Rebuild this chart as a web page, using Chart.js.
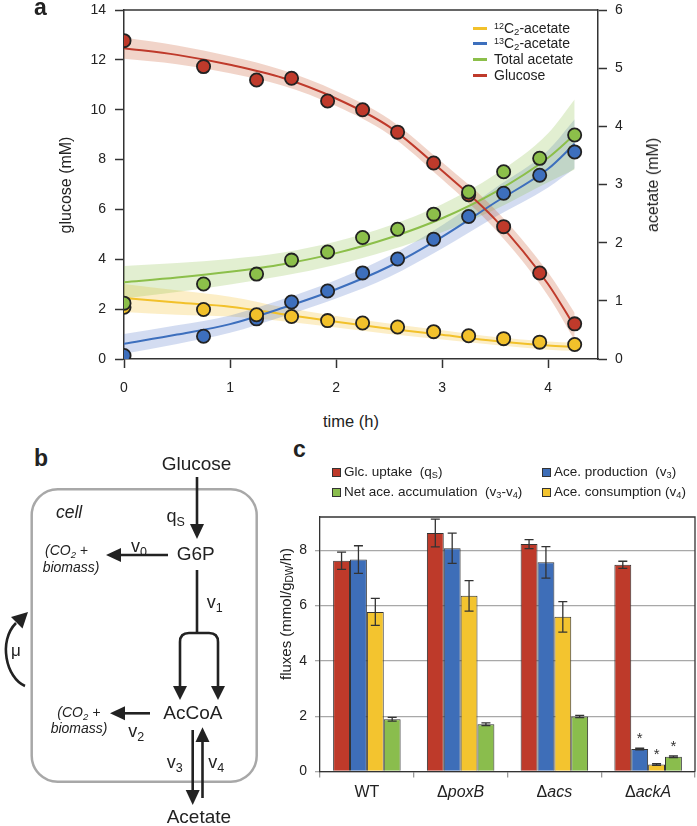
<!DOCTYPE html>
<html>
<head>
<meta charset="utf-8">
<script src="https://cdn.jsdelivr.net/npm/chart.js@4.4.0/dist/chart.umd.min.js"></script>
<style>
html,body{margin:0;padding:0;background:#fff;}
body{width:697px;height:826px;position:relative;overflow:hidden;font-family:"Liberation Sans",Arial,Helvetica,sans-serif;color:#222;}
.abs{position:absolute;white-space:nowrap;}
.rot{transform:translate(-50%,-50%) rotate(-90deg);}
.ctr{transform:translate(-50%,-50%);}
#ca{position:absolute;left:0;top:0;}
#cc{position:absolute;left:260px;top:500px;}
sup.s{font-size:0.64em;vertical-align:0.5em;line-height:0;}
sub.s{font-size:0.68em;vertical-align:-0.25em;line-height:0;}
.lg{position:absolute;font-size:14px;line-height:16px;}
.ll{position:absolute;width:14px;height:3px;}
.sq{position:absolute;width:7px;height:7px;border:1px solid #333;}
.lc{position:absolute;font-size:13.5px;line-height:16px;}
</style>
</head>
<body>
<canvas id="ca" width="697" height="400"></canvas>
<canvas id="cc" width="437" height="326"></canvas>

<!-- panel letters -->
<div class="abs" style="left:34px;top:-6px;font-size:23px;font-weight:bold;">a</div>
<div class="abs" style="left:34px;top:445px;font-size:23px;font-weight:bold;">b</div>
<div class="abs" style="left:293px;top:436px;font-size:23px;font-weight:bold;">c</div>

<!-- panel a axis titles -->
<div class="abs rot" style="left:66px;top:185px;font-size:16px;">glucose (mM)</div>
<div class="abs rot" style="left:653px;top:185px;font-size:16px;">acetate (mM)</div>
<div class="abs ctr" style="left:351px;top:421px;font-size:16.5px;">time (h)</div>

<!-- panel a legend -->
<div class="ll" style="left:473px;top:27px;background:#f2c12b;"></div>
<div class="ll" style="left:473px;top:42px;background:#3d6fbd;"></div>
<div class="ll" style="left:473px;top:58px;background:#8cbf4a;"></div>
<div class="ll" style="left:473px;top:73.5px;background:#bf3a2b;"></div>
<div class="lg" style="left:494px;top:20px;"><sup class="s">12</sup>C<sub class="s">2</sub>-acetate</div>
<div class="lg" style="left:494px;top:35px;"><sup class="s">13</sup>C<sub class="s">2</sub>-acetate</div>
<div class="lg" style="left:494px;top:51px;">Total acetate</div>
<div class="lg" style="left:494px;top:67px;">Glucose</div>

<!-- panel c legend -->
<div class="sq" style="left:332px;top:468px;background:#be3a2a;"></div>
<div class="lc" style="left:344px;top:464px;">Glc. uptake &nbsp;(q<sub class="s">S</sub>)</div>
<div class="sq" style="left:542px;top:468px;background:#3e6eb8;"></div>
<div class="lc" style="left:554px;top:464px;">Ace. production &nbsp;(v<sub class="s">3</sub>)</div>
<div class="sq" style="left:332px;top:488px;background:#8abd4d;"></div>
<div class="lc" style="left:344px;top:484px;">Net ace. accumulation &nbsp;(v<sub class="s">3</sub>-v<sub class="s">4</sub>)</div>
<div class="sq" style="left:542px;top:488px;background:#f3c42f;"></div>
<div class="lc" style="left:554px;top:484px;">Ace. consumption (v<sub class="s">4</sub>)</div>

<!-- panel c y title -->
<div class="abs rot" style="left:285px;top:614px;font-size:15px;">fluxes (mmol/g<sub class="s">DW</sub>/h)</div>

<!-- panel b diagram -->
<svg class="abs" style="left:0;top:0;" width="697" height="826" viewBox="0 0 697 826" font-family="Liberation Sans, Arial, sans-serif">
  <rect x="31.7" y="489.3" width="225" height="292.4" rx="26" ry="26" fill="none" stroke="#a8a8a8" stroke-width="2.5"/>
  <g stroke="#222" stroke-width="2.6" fill="none">
    <line x1="197" y1="477" x2="197" y2="526"/>
    <line x1="168" y1="555" x2="119" y2="555"/>
    <line x1="197" y1="570" x2="197" y2="633"/>
    <path d="M180,688 V642 Q180,633 189,633 H209 Q218,633 218,642 V688"/>
    <line x1="150" y1="713.3" x2="123" y2="713.3"/>
    <line x1="192.7" y1="730" x2="192.7" y2="792"/>
    <line x1="202.5" y1="798" x2="202.5" y2="741"/>
    <path d="M25,686 C6,678 -2,641 16,623"/>
  </g>
  <g fill="#222">
    <polygon points="190,524 204,524 197,539"/>
    <polygon points="121,548 121,562 106,555"/>
    <polygon points="173,686 187,686 180,700"/>
    <polygon points="211,686 225,686 218,700"/>
    <polygon points="125,706.3 125,720.3 110,713.3"/>
    <polygon points="185.7,790 199.7,790 192.7,805"/>
    <polygon points="195.5,742 209.5,742 202.5,727.3"/>
    <polygon points="28,612 22.5,628.5 11,617"/>
  </g>
  <g fill="#222" font-size="19">
    <text x="161.7" y="470">Glucose</text>
    <text x="176.7" y="560">G6P</text>
    <text x="163.3" y="719.3">AcCoA</text>
    <text x="166.7" y="823">Acetate</text>
  </g>
  <g fill="#222" font-size="18">
    <text x="166.5" y="521.5">q<tspan font-size="12.5" dy="4">S</tspan></text>
    <text x="131" y="551.7">v<tspan font-size="12.5" dy="4">0</tspan></text>
    <text x="206.7" y="608.3">v<tspan font-size="12.5" dy="4">1</tspan></text>
    <text x="128.3" y="736.7">v<tspan font-size="12.5" dy="4">2</tspan></text>
    <text x="166.7" y="768.3">v<tspan font-size="12.5" dy="4">3</tspan></text>
    <text x="208.3" y="768.3">v<tspan font-size="12.5" dy="4">4</tspan></text>
    <text x="11" y="656" font-size="17">μ</text>
  </g>
  <g fill="#222" font-style="italic" font-size="14">
    <text x="56" y="518.3" font-size="17.5">cell</text>
    <text x="45" y="555">(CO<tspan font-size="9.5" dy="3">2</tspan><tspan dy="-3"> +</tspan></text>
    <text x="42.7" y="571.7">biomass)</text>
    <text x="57.3" y="716.7">(CO<tspan font-size="9.5" dy="3">2</tspan><tspan dy="-3"> +</tspan></text>
    <text x="50.7" y="733.3">biomass)</text>
  </g>
</svg>

<script>
const FONT = '"Liberation Sans", Arial, Helvetica, sans-serif';

// ---------------- Panel a: time course ----------------
const sampleTimes   = [0, 0.75, 1.25, 1.58, 1.92, 2.25, 2.58, 2.92, 3.25, 3.58, 3.92, 4.25];
const glucoseObs    = [12.77, 11.73, 11.19, 11.26, 10.35, 10.0, 9.10, 7.86, 6.59, 5.31, 3.45, 1.41];
const acetate12Obs  = [0.89, 0.85, 0.76, 0.73, 0.66, 0.62, 0.55, 0.47, 0.40, 0.35, 0.29, 0.25];
const acetate13Obs  = [0.06, 0.39, 0.69, 0.98, 1.17, 1.48, 1.72, 2.06, 2.45, 2.85, 3.16, 3.56];
const acetateTotObs = [0.96, 1.29, 1.46, 1.70, 1.84, 2.09, 2.23, 2.49, 2.87, 3.22, 3.45, 3.85];

const fitTimes      = [0, 0.5, 1, 1.5, 2, 2.5, 3, 3.5, 4, 4.25];
const glucoseFit    = [12.47, 12.2, 11.8, 11.27, 10.45, 9.32, 7.55, 5.6, 3.0, 1.3];
const glucoseCI     = [0.43, 0.38, 0.34, 0.31, 0.30, 0.31, 0.34, 0.40, 0.47, 0.55];
const acetate12Fit  = [1.05, 0.97, 0.90, 0.77, 0.64, 0.52, 0.415, 0.31, 0.23, 0.21];
const acetate12CI   = [0.24, 0.21, 0.17, 0.12, 0.10, 0.09, 0.08, 0.07, 0.07, 0.07];
const acetate13Fit  = [0.26, 0.42, 0.60, 0.88, 1.20, 1.59, 2.10, 2.69, 3.27, 3.70];
const acetate13CI   = [0.17, 0.16, 0.15, 0.15, 0.16, 0.18, 0.20, 0.25, 0.32, 0.42];
const acetateTotFit = [1.32, 1.40, 1.50, 1.63, 1.82, 2.08, 2.42, 2.87, 3.46, 3.86];
const acetateTotCI  = [0.28, 0.25, 0.22, 0.20, 0.20, 0.21, 0.24, 0.30, 0.42, 0.60];

const timeMax = 4.47;
const timeStep = 1;
const glucoseStep = 2;
const acetateStep = 1;

// ---------------- Panel c: fluxes ----------------
const strains = ['WT', 'ΔpoxB', 'Δacs', 'ΔackA'];
const glcUptake = [7.62, 8.62, 8.22, 7.47];
const glcUptakeErr = [0.31, 0.50, 0.16, 0.13];
const aceProduction = [7.66, 8.07, 7.56, 0.81];
const aceProductionErr = [0.50, 0.55, 0.57, 0.03];
const aceConsumption = [5.77, 6.35, 5.59, 0.25];
const aceConsumptionErr = [0.49, 0.55, 0.55, 0.03];
const netAccumulation = [1.89, 1.71, 1.99, 0.53];
const netAccumulationErr = [0.07, 0.05, 0.04, 0.03];
const significantStrain = [false, false, false, true];

// ---------- helpers ----------
const xy = (xs, ys) => xs.map((x, i) => ({x, y: ys[i]}));
const shifted = (xs, ys, w, s) => xs.map((x, i) => ({x, y: ys[i] + s * w[i]}));

const COL = {red: '#bf3a2b', blue: '#3d6fbd', green: '#8cbf4a', yellow: '#f2c12b'};
const BAND = {
  red: 'rgba(205,100,60,0.28)', blue: 'rgba(70,110,195,0.24)',
  green: 'rgba(140,192,70,0.25)', yellow: 'rgba(245,190,40,0.26)'
};

function bandPair(fit, ci, key, axis) {
  return [
    {data: shifted(fitTimes, fit, ci, 1), yAxisID: axis, fill: '+1', backgroundColor: BAND[key],
     borderWidth: 0, pointRadius: 0, cubicInterpolationMode: 'monotone', order: 10},
    {data: shifted(fitTimes, fit, ci, -1), yAxisID: axis, fill: false, backgroundColor: BAND[key],
     borderWidth: 0, pointRadius: 0, cubicInterpolationMode: 'monotone', order: 10}
  ];
}
function fitLine(fit, key, axis) {
  return {data: xy(fitTimes, fit), yAxisID: axis, borderColor: COL[key], borderWidth: 2,
    pointRadius: 0, fill: false, cubicInterpolationMode: 'monotone', order: 5};
}
function obsPoints(obs, key, axis, ord) {
  return {data: xy(sampleTimes, obs), yAxisID: axis, showLine: false, pointRadius: 6.6,
    pointBorderWidth: 1.8, pointBorderColor: '#222', pointBackgroundColor: COL[key], order: ord};
}

const topBorder = {
  id: 'topBorder',
  afterDraw(chart) {
    const {ctx, chartArea: a} = chart;
    ctx.save(); ctx.strokeStyle = '#333'; ctx.lineWidth = 1.5;
    ctx.beginPath(); ctx.moveTo(a.left, a.top); ctx.lineTo(a.right, a.top); ctx.stroke();
    ctx.restore();
  }
};

const axisCommon = (step, pad) => ({
  ticks: {color: '#222', font: {family: FONT, size: 14}, includeBounds: false, stepSize: step, padding: pad, maxRotation: 0},
  grid: {display: true, drawOnChartArea: false, drawTicks: true, tickLength: 9, tickColor: '#333', tickWidth: 1.5},
  border: {display: true, color: '#333', width: 1.5}
});

new Chart(document.getElementById('ca'), {
  type: 'line',
  data: {
    datasets: [
      ...bandPair(glucoseFit, glucoseCI, 'red', 'y'),
      ...bandPair(acetateTotFit, acetateTotCI, 'green', 'y2'),
      ...bandPair(acetate13Fit, acetate13CI, 'blue', 'y2'),
      ...bandPair(acetate12Fit, acetate12CI, 'yellow', 'y2'),
      fitLine(glucoseFit, 'red', 'y'),
      fitLine(acetateTotFit, 'green', 'y2'),
      fitLine(acetate13Fit, 'blue', 'y2'),
      fitLine(acetate12Fit, 'yellow', 'y2'),
      obsPoints(glucoseObs, 'red', 'y', 4),
      obsPoints(acetate13Obs, 'blue', 'y2', 3),
      obsPoints(acetate12Obs, 'yellow', 'y2', 2),
      obsPoints(acetateTotObs, 'green', 'y2', 1)
    ]
  },
  options: {
    responsive: false, animation: false,
    layout: {padding: {top: 10, left: 0, right: 0, bottom: 0}},
    plugins: {legend: {display: false}, tooltip: {enabled: false}},
    scales: {
      x: Object.assign(axisCommon(timeStep, 12), {
        type: 'linear', position: 'bottom', min: 0, max: timeMax,
        afterFit(s) { s.height = 41; }
      }),
      y: Object.assign(axisCommon(glucoseStep, 9), {
        type: 'linear', position: 'left', min: 0, max: 14,
        afterFit(s) { s.width = 124; s.paddingTop = 4; s.paddingBottom = 4; }
      }),
      y2: Object.assign(axisCommon(acetateStep, 8), {
        type: 'linear', position: 'right', min: 0, max: 6,
        afterFit(s) { s.width = 99; s.paddingTop = 4; s.paddingBottom = 4; }
      })
    }
  },
  plugins: [topBorder]
});

// ---------- Panel c ----------
const errPlugin = {
  id: 'errBars',
  afterDatasetsDraw(chart) {
    const {ctx} = chart; const ys = chart.scales.y;
    ctx.save();
    chart.data.datasets.forEach((ds, di) => {
      const meta = chart.getDatasetMeta(di);
      meta.data.forEach((bar, i) => {
        const v = ds.data[i], e = ds.errors[i];
        const x = bar.x, yt = ys.getPixelForValue(v + e), yb = ys.getPixelForValue(v - e);
        ctx.strokeStyle = '#333'; ctx.lineWidth = 1.3;
        ctx.beginPath();
        ctx.moveTo(x, yt); ctx.lineTo(x, yb);
        ctx.moveTo(x - 4.5, yt); ctx.lineTo(x + 4.5, yt);
        ctx.moveTo(x - 4.5, yb); ctx.lineTo(x + 4.5, yb);
        ctx.stroke();
        if (ds.star && significantStrain[i]) {
          ctx.fillStyle = '#333'; ctx.font = '15px ' + FONT;
          ctx.textAlign = 'center'; ctx.textBaseline = 'alphabetic';
          ctx.fillText('*', x, yt - 5);
        }
      });
    });
    ctx.restore();
  },
  afterDraw(chart) {
    const {ctx, chartArea: a} = chart;
    ctx.save();
    ctx.strokeStyle = '#333'; ctx.lineWidth = 1.3;
    ctx.beginPath();
    ctx.moveTo(a.left, a.top); ctx.lineTo(a.right, a.top); ctx.lineTo(a.right, a.bottom);
    ctx.stroke();
    // category labels: Greek delta upright, gene names italic
    const xs = chart.scales.x;
    ctx.fillStyle = '#222'; ctx.textBaseline = 'middle'; ctx.textAlign = 'left';
    chart.data.labels.forEach((lab, i) => {
      const cx = xs.getPixelForTick(i);
      const y = a.bottom + 21;
      let pre = '', rest = lab, restFont = '16px ' + FONT;
      if (lab.startsWith('Δ')) { pre = 'Δ'; rest = lab.slice(1); restFont = 'italic 16px ' + FONT; }
      ctx.font = '16px ' + FONT; const wp = ctx.measureText(pre).width;
      ctx.font = restFont; const wr = ctx.measureText(rest).width;
      const x0 = cx - (wp + wr) / 2;
      ctx.font = '16px ' + FONT; ctx.fillText(pre, x0, y);
      ctx.font = restFont; ctx.fillText(rest, x0 + wp, y);
    });
    ctx.restore();
  }
};

new Chart(document.getElementById('cc'), {
  type: 'bar',
  data: {
    labels: strains,
    datasets: [
      {label: 'Glc. uptake (qS)', data: glcUptake, errors: glcUptakeErr, backgroundColor: '#be3a2a', borderColor: '#333', borderWidth: 1},
      {label: 'Ace. production (v3)', data: aceProduction, errors: aceProductionErr, star: true, backgroundColor: '#3e6eb8', borderColor: '#333', borderWidth: 1},
      {label: 'Ace. consumption (v4)', data: aceConsumption, errors: aceConsumptionErr, star: true, backgroundColor: '#f3c42f', borderColor: '#333', borderWidth: 1},
      {label: 'Net ace. accumulation (v3-v4)', data: netAccumulation, errors: netAccumulationErr, star: true, backgroundColor: '#8abd4d', borderColor: '#333', borderWidth: 1}
    ]
  },
  options: {
    responsive: false, animation: false,
    categoryPercentage: 0.72, barPercentage: 1.0,
    layout: {padding: {top: 17, left: 0, right: 2, bottom: 0}},
    plugins: {legend: {display: false}, tooltip: {enabled: false}},
    scales: {
      x: {
        grid: {offset: true, display: true, drawOnChartArea: false, drawTicks: true, tickLength: 6, color: '#999', lineWidth: 1.3},
        border: {display: true, color: '#333', width: 1.3},
        ticks: {color: 'rgba(0,0,0,0)', font: {family: FONT, size: 16}},
        afterFit(s) { s.height = 54.5; }
      },
      y: {
        min: 0, max: 9.2,
        ticks: {stepSize: 2, includeBounds: false, color: '#222', padding: 8, font: {family: FONT, size: 14}},
        grid: {color: '#a8a8a8', lineWidth: 1.3, drawTicks: true, tickLength: 5},
        border: {display: true, color: '#333', width: 1.3},
        afterFit(s) { s.width = 60; s.paddingTop = 4; s.paddingBottom = 4; }
      }
    }
  },
  plugins: [errPlugin]
});
</script>
</body>
</html>
